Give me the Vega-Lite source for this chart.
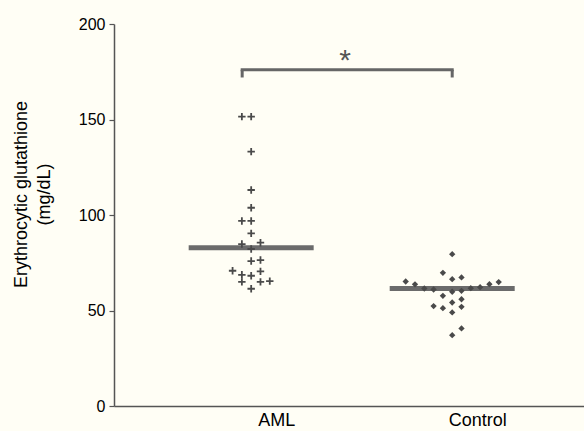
{
  "$schema": "https://vega.github.io/schema/vega-lite/v6.json",
  "width": 470,
  "height": 382,
  "autosize": "none",
  "padding": {"left": 114, "top": 24, "right": 0, "bottom": 25},
  "background": "#fffef5",
  "config": {
    "view": {"stroke": null},
    "font": "Liberation Sans"
  },
  "datasets": {
    "points": [
      {"group": "AML", "value": 151.5, "slot": -1},
      {"group": "AML", "value": 151.5, "slot": 0},
      {"group": "AML", "value": 133.2, "slot": 0},
      {"group": "AML", "value": 113.1, "slot": 0},
      {"group": "AML", "value": 103.8, "slot": 0},
      {"group": "AML", "value": 96.9, "slot": -1},
      {"group": "AML", "value": 96.9, "slot": 0},
      {"group": "AML", "value": 90.4, "slot": 0},
      {"group": "AML", "value": 84.8, "slot": -1},
      {"group": "AML", "value": 85.5, "slot": 1},
      {"group": "AML", "value": 82.2, "slot": 0},
      {"group": "AML", "value": 75.9, "slot": 0},
      {"group": "AML", "value": 76.4, "slot": 1},
      {"group": "AML", "value": 70.8, "slot": -2},
      {"group": "AML", "value": 68.7, "slot": -1},
      {"group": "AML", "value": 68.2, "slot": 0},
      {"group": "AML", "value": 70.5, "slot": 1},
      {"group": "AML", "value": 65.0, "slot": -1},
      {"group": "AML", "value": 65.0, "slot": 1},
      {"group": "AML", "value": 65.4, "slot": 2},
      {"group": "AML", "value": 61.4, "slot": 0},
      {"group": "Control", "value": 79.5, "slot": 0},
      {"group": "Control", "value": 69.7, "slot": -1},
      {"group": "Control", "value": 66.4, "slot": 0},
      {"group": "Control", "value": 67.3, "slot": 1},
      {"group": "Control", "value": 65.2, "slot": -5},
      {"group": "Control", "value": 63.7, "slot": -4},
      {"group": "Control", "value": 63.8, "slot": 4},
      {"group": "Control", "value": 64.9, "slot": 5},
      {"group": "Control", "value": 61.5, "slot": -3},
      {"group": "Control", "value": 61.0, "slot": -2},
      {"group": "Control", "value": 59.8, "slot": 0},
      {"group": "Control", "value": 60.3, "slot": 1},
      {"group": "Control", "value": 61.7, "slot": 2},
      {"group": "Control", "value": 62.2, "slot": 3},
      {"group": "Control", "value": 57.7, "slot": -1},
      {"group": "Control", "value": 55.9, "slot": 1},
      {"group": "Control", "value": 54.2, "slot": 0},
      {"group": "Control", "value": 52.3, "slot": -2},
      {"group": "Control", "value": 51.2, "slot": -1},
      {"group": "Control", "value": 51.9, "slot": 1},
      {"group": "Control", "value": 49.0, "slot": 0},
      {"group": "Control", "value": 40.6, "slot": 1},
      {"group": "Control", "value": 37.1, "slot": 0}
    ],
    "means": [
      {"group": "AML", "mean": 82.9},
      {"group": "Control", "mean": 61.5}
    ]
  },
  "encoding": {
    "x": {
      "field": "group",
      "type": "nominal",
      "scale": {"type": "point", "domain": ["AML", "Control"], "padding": 0.669, "align": 0.51},
      "axis": {
        "title": null,
        "labelAngle": 0,
        "ticks": false,
        "labelOffset": 25,
        "labelFontSize": 18,
        "labelColor": "#000",
        "labelPadding": 5,
        "domainColor": "#555",
        "domainWidth": 1.5
      }
    }
  },
  "layer": [
    {
      "data": {"name": "means"},
      "mark": {"type": "tick", "color": "#6b6b6b", "size": 125, "thickness": 5, "opacity": 1},
      "encoding": {
        "y": {
          "field": "mean",
          "type": "quantitative",
          "scale": {"domain": [0, 200], "nice": false, "zero": true},
          "axis": {
            "values": [0, 50, 100, 150, 200],
            "grid": false,
            "title": ["Erythrocytic glutathione", "(mg/dL)"],
            "titleFontSize": 18,
            "titleLineHeight": 23,
            "titleFontWeight": "normal",
            "titleColor": "#000",
            "titlePadding": 25,
            "titleY": 170,
            "labelFontSize": 16,
            "labelColor": "#000",
            "labelPadding": 4,
            "tickSize": 5,
            "tickColor": "#555",
            "tickWidth": 1.2,
            "domainColor": "#555",
            "domainWidth": 1.5
          }
        }
      }
    },
    {
      "data": {"name": "points"},
      "transform": [{"filter": "datum.group === 'AML'"}],
      "mark": {"type": "point", "shape": "M-1,0H1M0,-1V1", "filled": false, "stroke": "#4a4a4a", "strokeWidth": 1.8, "size": 55, "opacity": 1},
      "encoding": {
        "y": {"field": "value", "type": "quantitative"},
        "xOffset": {"field": "slot", "type": "quantitative", "scale": {"domain": [-5, 5], "range": [-46.5, 46.5]}}
      }
    },
    {
      "data": {"name": "points"},
      "transform": [{"filter": "datum.group === 'Control'"}],
      "mark": {"type": "point", "shape": "diamond", "filled": true, "color": "#4a4a4a", "size": 40, "opacity": 1},
      "encoding": {
        "y": {"field": "value", "type": "quantitative"},
        "xOffset": {"field": "slot", "type": "quantitative", "scale": {"domain": [-5, 5], "range": [-46.5, 46.5]}}
      }
    },
    {
      "data": {"values": [{"group": "AML", "top": 176, "bottom": 172}]},
      "mark": {"type": "rule", "color": "#666", "strokeWidth": 3, "xOffset": -9},
      "encoding": {
        "y": {"field": "top", "type": "quantitative"},
        "y2": {"field": "bottom"}
      }
    },
    {
      "data": {"values": [{"group": "Control", "top": 176, "bottom": 172}]},
      "mark": {"type": "rule", "color": "#666", "strokeWidth": 3},
      "encoding": {
        "y": {"field": "top", "type": "quantitative"},
        "y2": {"field": "bottom"}
      }
    },
    {
      "data": {"values": [{"from": "AML", "to": "Control", "y": 176}]},
      "mark": {"type": "rule", "color": "#666", "strokeWidth": 3, "xOffset": -10.5, "x2Offset": 1.5},
      "encoding": {
        "x": {"field": "from", "type": "nominal"},
        "x2": {"field": "to"},
        "y": {"field": "y", "type": "quantitative"}
      }
    },
    {
      "data": {"values": [{"group": "AML", "y": 184, "label": "*"}]},
      "mark": {"type": "text", "fontSize": 30, "color": "#555", "dx": 94, "dy": 6, "baseline": "middle"},
      "encoding": {
        "y": {"field": "y", "type": "quantitative"},
        "text": {"field": "label"}
      }
    }
  ]
}
